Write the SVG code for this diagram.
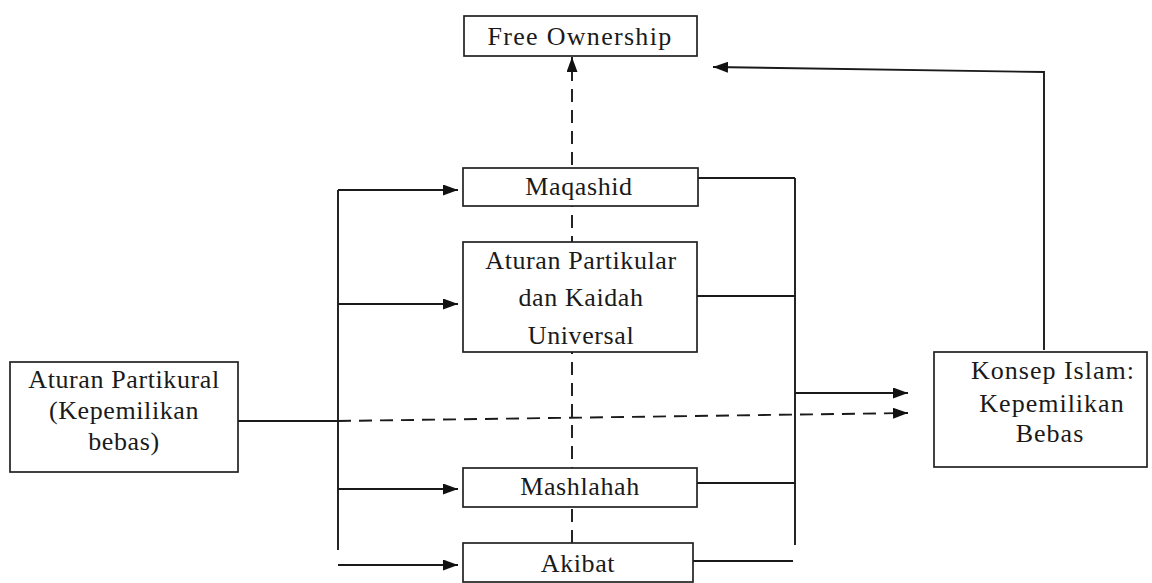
<svg xmlns="http://www.w3.org/2000/svg" width="1152" height="583" viewBox="0 0 1152 583">
<defs>
<marker id="ah" markerWidth="15" markerHeight="11" refX="15" refY="5.5" orient="auto" markerUnits="userSpaceOnUse">
<path d="M0,0 L15,5.5 L0,11 Z" fill="#111"/>
</marker>
<style>
.box{fill:#fff;stroke:#222;stroke-width:1.7}
.t{font-family:"Liberation Serif","Times New Roman",serif;font-size:26px;fill:#1a1a1a;text-anchor:middle;letter-spacing:0.6px}
.ln{fill:none;stroke:#1a1a1a;stroke-width:1.9}
.ds{fill:none;stroke:#1a1a1a;stroke-width:1.9;stroke-dasharray:13 8}
</style>
</defs>
<rect width="1152" height="583" fill="#fff"/>
<g id="connectors">
<line class="ds" x1="572" y1="543" x2="572" y2="57" marker-end="url(#ah)"/>
<path class="ln" d="M1044,350 L1044,72 L713,67" marker-end="url(#ah)"/>
<line class="ln" x1="338" y1="190" x2="338" y2="550"/>
<line class="ln" x1="338" y1="190" x2="458" y2="190" marker-end="url(#ah)"/>
<line class="ln" x1="338" y1="304" x2="458" y2="304" marker-end="url(#ah)"/>
<line class="ln" x1="338" y1="489" x2="458" y2="489" marker-end="url(#ah)"/>
<line class="ln" x1="338" y1="565" x2="458" y2="565" marker-end="url(#ah)"/>
<line class="ln" x1="795" y1="178" x2="795" y2="545"/>
<line class="ln" x1="698" y1="178" x2="795" y2="178"/>
<line class="ln" x1="697" y1="296" x2="795" y2="296"/>
<line class="ln" x1="697" y1="483" x2="795" y2="483"/>
<line class="ln" x1="693" y1="561" x2="793" y2="561"/>
<line class="ln" x1="795" y1="393" x2="908" y2="393" marker-end="url(#ah)"/>
<line class="ln" x1="238" y1="421" x2="338" y2="421"/>
<line class="ds" x1="338" y1="421" x2="908" y2="413" marker-end="url(#ah)"/>
</g>
<g id="free-ownership">
<rect class="box" x="464" y="16" width="233" height="40"/>
<text class="t" x="580" y="45" style="letter-spacing:1.3px">Free Ownership</text>
</g>
<g id="maqashid">
<rect class="box" x="463" y="168" width="235" height="38"/>
<text class="t" x="579" y="195">Maqashid</text>
</g>
<g id="aturan-partikular">
<rect class="box" x="463" y="242" width="234" height="110"/>
<text class="t" x="581" y="269">Aturan Partikular</text>
<text class="t" x="581" y="306">dan Kaidah</text>
<text class="t" x="581" y="344">Universal</text>
</g>
<g id="mashlahah">
<rect class="box" x="463" y="468" width="234" height="39"/>
<text class="t" x="580" y="495">Mashlahah</text>
</g>
<g id="akibat">
<rect class="box" x="463" y="543" width="230" height="39"/>
<text class="t" x="578" y="572">Akibat</text>
</g>
<g id="aturan-partikural">
<rect class="box" x="10" y="362" width="228" height="110"/>
<text class="t" x="124" y="388">Aturan Partikural</text>
<text class="t" x="124" y="419">(Kepemilikan</text>
<text class="t" x="124" y="450">bebas)</text>
</g>
<g id="konsep-islam">
<rect class="box" x="934" y="352" width="213" height="115"/>
<text class="t" x="1053" y="379" style="letter-spacing:1px">Konsep Islam:</text>
<text class="t" x="1052" y="412" style="letter-spacing:1px">Kepemilikan</text>
<text class="t" x="1050" y="442" style="letter-spacing:1px">Bebas</text>
</g>
</svg>
